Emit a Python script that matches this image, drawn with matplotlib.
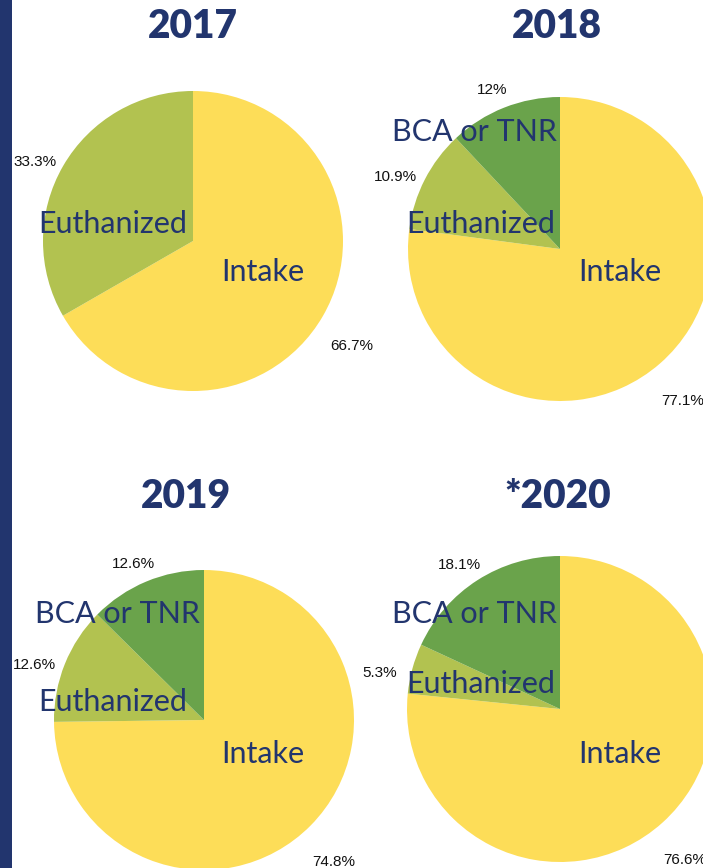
import matplotlib.pyplot as plt
from matplotlib.patches import Rectangle

# datos
years = ['2017', '2018', '2019', '*2020']
labels = ['Intake', 'Euthanized', 'BCA or TNR']
intake = [66.7, 77.1, 74.8, 76.6]
euthanized = [33.3, 10.9, 12.6, 5.3]
bca_tnr = [0.0, 12.0, 12.6, 18.1]

colors = ['#fddd58', '#b2c250', '#6aa34b']
navy = '#22356e'

W, H = 703, 868
fig = plt.figure(figsize=(W / 100, H / 100), dpi=100)
fig.patch.set_facecolor('white')

# barra azul a la izquierda
fig.patches.append(Rectangle((0, 0), 12 / W, 1, transform=fig.transFigure,
                             facecolor=navy, edgecolor='none'))

def fx(x):
    return x / W

def fy(y):
    return 1 - y / H

# centro y radio (px) de cada torta
centers = [(193, 241, 150), (560, 249, 152), (204, 720, 150), (560, 709, 153)]
title_pos = [(193, 26), (557, 26), (186, 496), (558, 496)]
# etiquetas grandes (px): x de Intake (izq), x de Euthanized / BCA (der), y de cada una
lab_x = [(221, 187, 200), (578, 555, 557), (221, 187, 200), (578, 555, 557)]
lab_y = [(272, 224, 132), (272, 224, 132), (754, 702, 614), (754, 684, 614)]

for i, yr in enumerate(years):
    cx, cy, r = centers[i]
    ax = fig.add_axes([fx(cx - r), fy(cy + r), 2 * r / W, 2 * r / H])
    vals = [intake[i], euthanized[i], bca_tnr[i]]
    cols = colors[:]
    if vals[2] == 0:
        vals = vals[:2]
        cols = cols[:2]
    wedges, texts, autotexts = ax.pie(
        vals, colors=cols, startangle=90, counterclock=False, radius=1,
        autopct=lambda p: ('%g%%' % round(p, 1)), pctdistance=1.22,
        wedgeprops=dict(linewidth=0),
        textprops=dict(fontsize=11, family='Liberation Sans', color='#111111'))
    for t in autotexts:
        t.set_clip_on(False)
        x, y = t.get_position()
        t.set_position((x, y - 13 / r))  # en el original quedan un poco mas abajo
    ax.set_xlim(-1, 1)
    ax.set_ylim(-1, 1)
    ax.set_aspect('auto')
    ax.axis('off')

    # titulo
    tx, ty = title_pos[i]
    fig.text(fx(tx), fy(ty), yr, ha='center', va='center', fontsize=28,
             fontweight='heavy', family='Lato', color=navy)

    xi, xe, xb = lab_x[i]
    yi, ye, yb = lab_y[i]
    lab_kw = dict(fontsize=22, family='Lato', fontweight='normal', color=navy,
                  va='center', zorder=5)
    if bca_tnr[i] > 0:
        fig.text(fx(xb), fy(yb), labels[2], ha='right', **lab_kw)
    fig.text(fx(xe), fy(ye), labels[1], ha='right', **lab_kw)
    fig.text(fx(xi), fy(yi), labels[0], ha='left', **lab_kw)

plt.savefig('out.png', dpi=100)
